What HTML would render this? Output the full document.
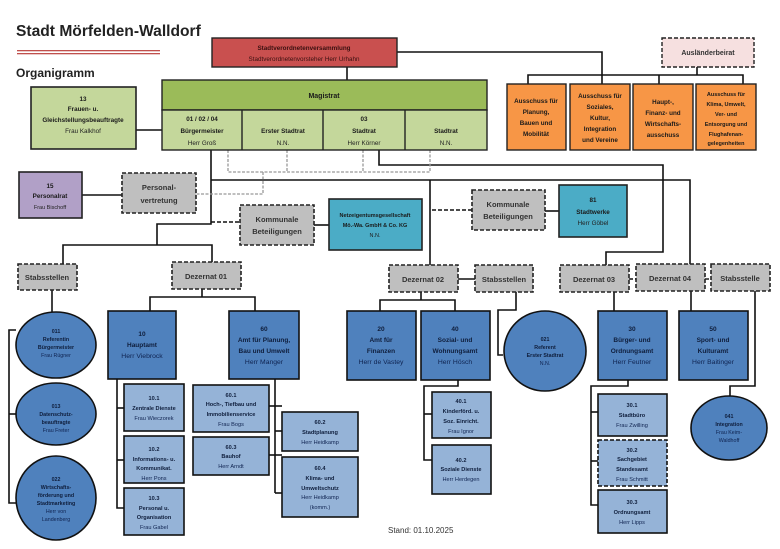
<!DOCTYPE html>
<html><head><meta charset="utf-8"><style>
html,body{margin:0;padding:0;background:#fff;width:780px;height:549px;overflow:hidden}
svg{display:block}
text{font-family:"Liberation Sans",sans-serif;text-anchor:middle}
.b{font-weight:bold;font-size:6.3px;fill:#1a1a1a}
.n{font-size:6.3px;fill:#222}
.bb{font-weight:bold;font-size:6.5px;fill:#0f1e3c}
.nb{font-size:6.8px;fill:#0f2350}
.g{font-weight:bold;font-size:7.5px;fill:#333}
</style></head><body>
<svg width="780" height="549" viewBox="0 0 780 549" xmlns="http://www.w3.org/2000/svg">
<text x="16" y="36" style="text-anchor:start;font-weight:bold;font-size:15.6px;fill:#222">Stadt Mörfelden-Walldorf</text>
<rect x="17" y="50" width="143" height="1.3" fill="#c0504d"/>
<rect x="17" y="53" width="143" height="1.3" fill="#c0504d"/>
<text x="16" y="77" style="text-anchor:start;font-weight:bold;font-size:12px;fill:#222">Organigramm</text>

<g stroke="#111" stroke-width="1.6" fill="none">
<polyline points="397,52 602,52 602,84"/>
<line x1="347" y1="67" x2="347" y2="80"/>
<polyline points="528,84 528,75 743,75 743,84"/>
<line x1="659" y1="75" x2="659" y2="84"/>
<line x1="697" y1="67" x2="697" y2="75"/>
<line x1="136" y1="130" x2="162" y2="130"/>
<line x1="82" y1="195" x2="122" y2="195"/>
<polyline points="211,150 211,224 157,224 157,245"/>
<polyline points="63,264 63,245 212,245 212,262"/>
<polyline points="211,180 690,180 690,264"/>
<line x1="430" y1="180" x2="430" y2="265"/>
<polyline points="379,150 379,165 663,165 663,252 606,252 606,265"/>
<line x1="314" y1="225" x2="329" y2="225"/>
<line x1="545" y1="211" x2="559" y2="211"/>
<line x1="458" y1="279" x2="475" y2="279"/>
<polyline points="150,311 150,297 255,297 255,311"/>
<line x1="202" y1="289" x2="202" y2="297"/>
<polyline points="117,379 117,508 124,508"/>
<line x1="117" y1="408" x2="124" y2="408"/>
<line x1="117" y1="460" x2="124" y2="460"/>
<line x1="275" y1="379" x2="275" y2="493"/>
<line x1="269" y1="406" x2="282" y2="406"/>
<line x1="269" y1="455" x2="282" y2="455"/>
<line x1="275" y1="431" x2="282" y2="431"/>
<line x1="275" y1="493" x2="282" y2="493"/>
<line x1="52" y1="290" x2="52" y2="312"/>
<polyline points="16,330 9,330 9,503 16,503"/>
<line x1="9" y1="414" x2="16" y2="414"/>
<line x1="421" y1="292" x2="421" y2="300"/>
<polyline points="380,311 380,300 455,300 455,311"/>
<polyline points="458,380 458,386 424,386 424,460 432,460"/>
<line x1="424" y1="414" x2="432" y2="414"/>
<polyline points="516,292 516,310 498,310 498,355 503,355"/>
<line x1="614" y1="292" x2="614" y2="311"/>
<polyline points="628,380 628,386 591,386 591,505 598,505"/>
<line x1="591" y1="412" x2="598" y2="412"/>
<line x1="591" y1="461" x2="598" y2="461"/>
<line x1="691" y1="291" x2="691" y2="311"/>
<polyline points="755,291 755,386 730,386 730,397"/>
</g>
<g stroke="#111" stroke-width="1.4" fill="none" stroke-dasharray="4,2">
<line x1="211" y1="222" x2="240" y2="222"/>
<line x1="432" y1="210" x2="472" y2="210"/>
<line x1="629" y1="279" x2="636" y2="279"/>
<line x1="705" y1="279" x2="711" y2="279"/>
</g>
<g stroke="#999" stroke-width="1.3" fill="none" stroke-dasharray="3,1.5">
<polyline points="228,150 228,172 430,172 430,150"/>
<line x1="287" y1="150" x2="287" y2="172"/>
<line x1="363" y1="150" x2="363" y2="172"/>
<polyline points="263,172 263,194 196,194"/>
</g>

<rect x="212" y="38" width="185" height="29" fill="#c9504f" stroke="#222" stroke-width="1.4"/>
<text x="304" y="50" class="b" style="fill:#3a1010">Stadtverordnetenversammlung</text>
<text x="304" y="61" class="n" style="fill:#3a1010">Stadtverordnetenvorsteher Herr Urhahn</text>
<rect x="662" y="38" width="92" height="29" fill="#f6e0e0" stroke="#222" stroke-width="1.4" stroke-dasharray="4,2"/>
<text x="708" y="55" class="b" style="font-size:7px;fill:#333">Ausländerbeirat</text>
<g fill="#f79646" stroke="#222" stroke-width="1.4">
<rect x="507" y="84" width="59" height="66"/><rect x="570" y="84" width="60" height="66"/>
<rect x="633" y="84" width="60" height="66"/><rect x="696" y="84" width="60" height="66"/>
</g>
<text x="536" y="103" class="b">Ausschuss für</text><text x="536" y="114" class="b">Planung,</text><text x="536" y="125" class="b">Bauen und</text><text x="536" y="136" class="b">Mobilität</text>
<text x="600" y="98" class="b">Ausschuss für</text><text x="600" y="109" class="b">Soziales,</text><text x="600" y="120" class="b">Kultur,</text><text x="600" y="131" class="b">Integration</text><text x="600" y="142" class="b">und Vereine</text>
<text x="663" y="104" class="b">Haupt-,</text><text x="663" y="115" class="b">Finanz- und</text><text x="663" y="126" class="b">Wirtschafts-</text><text x="663" y="137" class="b">ausschuss</text>
<text x="726" y="96" class="b" style="font-size:5.5px">Ausschuss für</text><text x="726" y="106" class="b" style="font-size:5.5px">Klima, Umwelt,</text><text x="726" y="116" class="b" style="font-size:5.5px">Ver- und</text><text x="726" y="126" class="b" style="font-size:5.5px">Entsorgung und</text><text x="726" y="136" class="b" style="font-size:5.5px">Flughafenan-</text><text x="726" y="145" class="b" style="font-size:5.5px">gelegenheiten</text>
<rect x="162" y="80" width="325" height="30" fill="#9bbb59" stroke="#222" stroke-width="1.4"/>
<rect x="162" y="110" width="325" height="40" fill="#c4d79b" stroke="#222" stroke-width="1.4"/>
<g stroke="#222" stroke-width="1.4"><line x1="242" y1="110" x2="242" y2="150"/><line x1="323" y1="110" x2="323" y2="150"/><line x1="405" y1="110" x2="405" y2="150"/></g>
<text x="324" y="98" class="b" style="font-size:7px">Magistrat</text>
<text x="202" y="121" class="b">01 / 02 / 04</text><text x="202" y="133" class="b">Bürgermeister</text><text x="202" y="145" class="n">Herr Groß</text>
<text x="283" y="133" class="b">Erster Stadtrat</text><text x="283" y="145" class="n">N.N.</text>
<text x="364" y="121" class="b">03</text><text x="364" y="133" class="b">Stadtrat</text><text x="364" y="145" class="n">Herr Körner</text>
<text x="446" y="133" class="b">Stadtrat</text><text x="446" y="145" class="n">N.N.</text>
<rect x="31" y="87" width="105" height="62" fill="#c4d79b" stroke="#222" stroke-width="1.6"/>
<text x="83" y="101" class="b">13</text><text x="83" y="111" class="b">Frauen- u.</text><text x="83" y="122" class="b">Gleichstellungsbeauftragte</text><text x="83" y="133" class="n">Frau Kalkhof</text>
<rect x="19" y="172" width="63" height="46" fill="#b1a0c7" stroke="#222" stroke-width="1.6"/>
<text x="50" y="188" class="b">15</text><text x="50" y="198" class="b">Personalrat</text><text x="50" y="209" class="n" style="font-size:5.5px">Frau Bischoff</text>
<g fill="#bfbfbf" stroke="#222" stroke-width="1.6" stroke-dasharray="4,2">
<rect x="122" y="173" width="74" height="40"/>
<rect x="240" y="205" width="74" height="40"/>
<rect x="472" y="190" width="73" height="40"/>
<rect x="18" y="264" width="59" height="26"/>
<rect x="172" y="262" width="69" height="27"/>
<rect x="389" y="265" width="69" height="27"/>
<rect x="475" y="265" width="58" height="27"/>
<rect x="560" y="265" width="69" height="27"/>
<rect x="636" y="264" width="69" height="27"/>
<rect x="711" y="264" width="59" height="27"/>
</g>
<text x="159" y="190" class="g">Personal-</text><text x="159" y="203" class="g">vertretung</text>
<text x="277" y="222" class="g">Kommunale</text><text x="277" y="234" class="g">Beteiligungen</text>
<text x="508" y="207" class="g">Kommunale</text><text x="508" y="219" class="g">Beteiligungen</text>
<text x="47" y="280" class="g">Stabsstellen</text>
<text x="206" y="279" class="g">Dezernat 01</text>
<text x="423" y="282" class="g">Dezernat 02</text>
<text x="504" y="282" class="g">Stabsstellen</text>
<text x="594" y="282" class="g">Dezernat 03</text>
<text x="670" y="281" class="g">Dezernat 04</text>
<text x="740" y="281" class="g">Stabsstelle</text>
<rect x="329" y="199" width="93" height="51" fill="#4bacc6" stroke="#222" stroke-width="1.6"/>
<text x="375" y="217" class="b" style="font-size:5.5px">Netzeigentumsgesellschaft</text><text x="375" y="227" class="b" style="font-size:5.5px">Mö.-Wa. GmbH &amp; Co. KG</text><text x="375" y="237" class="n" style="font-size:5.5px">N.N.</text>
<rect x="559" y="185" width="68" height="52" fill="#4bacc6" stroke="#222" stroke-width="1.6"/>
<text x="593" y="202" class="b">81</text><text x="593" y="214" class="b">Stadtwerke</text><text x="593" y="225" class="n">Herr Göbel</text>
<g fill="#4f81bd" stroke="#111" stroke-width="1.6">
<rect x="108" y="311" width="68" height="68"/>
<rect x="229" y="311" width="70" height="68"/>
<rect x="347" y="311" width="69" height="69"/>
<rect x="421" y="311" width="69" height="69"/>
<rect x="598" y="311" width="69" height="69"/>
<rect x="679" y="311" width="69" height="69"/>
<ellipse cx="56" cy="345" rx="40" ry="33"/>
<ellipse cx="56" cy="414" rx="40" ry="31"/>
<ellipse cx="56" cy="498" rx="40" ry="42"/>
<ellipse cx="545" cy="351" rx="41" ry="40"/>
<ellipse cx="729" cy="428" rx="38" ry="32"/>
</g>
<text x="142" y="336" class="bb">10</text><text x="142" y="347" class="bb">Hauptamt</text><text x="142" y="358" class="nb">Herr Viebrock</text>
<text x="264" y="331" class="bb">60</text><text x="264" y="342" class="bb">Amt für Planung,</text><text x="264" y="353" class="bb">Bau und Umwelt</text><text x="264" y="364" class="nb">Herr Manger</text>
<text x="381" y="331" class="bb">20</text><text x="381" y="342" class="bb">Amt für</text><text x="381" y="353" class="bb">Finanzen</text><text x="381" y="364" class="nb">Herr de Vastey</text>
<text x="455" y="331" class="bb">40</text><text x="455" y="342" class="bb">Sozial- und</text><text x="455" y="353" class="bb">Wohnungsamt</text><text x="455" y="364" class="nb">Herr Hösch</text>
<text x="632" y="331" class="bb">30</text><text x="632" y="342" class="bb">Bürger- und</text><text x="632" y="353" class="bb">Ordnungsamt</text><text x="632" y="364" class="nb">Herr Feutner</text>
<text x="713" y="331" class="bb">50</text><text x="713" y="342" class="bb">Sport- und</text><text x="713" y="353" class="bb">Kulturamt</text><text x="713" y="364" class="nb">Herr Baitinger</text>
<text x="56" y="333" class="bb" style="font-size:5.3px">011</text><text x="56" y="341" class="bb" style="font-size:5.3px">Referentin</text><text x="56" y="349" class="bb" style="font-size:5.3px">Bürgermeister</text><text x="56" y="357" class="nb" style="font-size:5.3px">Frau Rügner</text>
<text x="56" y="408" class="bb" style="font-size:5.3px">013</text><text x="56" y="416" class="bb" style="font-size:5.3px">Datenschutz-</text><text x="56" y="424" class="bb" style="font-size:5.3px">beauftragte</text><text x="56" y="432" class="nb" style="font-size:5.3px">Frau Freter</text>
<text x="56" y="481" class="bb" style="font-size:5.3px">022</text><text x="56" y="489" class="bb" style="font-size:5.3px">Wirtschafts-</text><text x="56" y="497" class="bb" style="font-size:5.3px">förderung und</text><text x="56" y="505" class="bb" style="font-size:5.3px">Stadtmarketing</text><text x="56" y="513" class="nb" style="font-size:5.3px">Herr von</text><text x="56" y="521" class="nb" style="font-size:5.3px">Landenberg</text>
<text x="545" y="341" class="bb" style="font-size:5.3px">021</text><text x="545" y="349" class="bb" style="font-size:5.3px">Referent</text><text x="545" y="357" class="bb" style="font-size:5.3px">Erster Stadtrat</text><text x="545" y="365" class="nb" style="font-size:5.3px">N.N.</text>
<text x="729" y="418" class="bb" style="font-size:5.3px">041</text><text x="729" y="426" class="bb" style="font-size:5.3px">Integration</text><text x="729" y="434" class="nb" style="font-size:5.3px">Frau Keim-</text><text x="729" y="442" class="nb" style="font-size:5.3px">Waldhoff</text>
<g fill="#95b3d7" stroke="#111" stroke-width="1.6">
<rect x="124" y="384" width="60" height="47"/>
<rect x="124" y="436" width="60" height="47"/>
<rect x="124" y="488" width="60" height="47"/>
<rect x="193" y="385" width="76" height="47"/>
<rect x="193" y="437" width="76" height="38"/>
<rect x="282" y="412" width="76" height="39"/>
<rect x="282" y="457" width="76" height="60"/>
<rect x="432" y="392" width="59" height="46"/>
<rect x="432" y="445" width="59" height="49"/>
<rect x="598" y="394" width="69" height="42"/>
<rect x="598" y="490" width="69" height="43"/>
</g>
<rect x="598" y="440" width="69" height="46" fill="#95b3d7" stroke="#111" stroke-width="1.6" stroke-dasharray="4,2"/>
<text x="154" y="400" class="bb" style="font-size:5.6px">10.1</text><text x="154" y="410" class="bb" style="font-size:5.6px">Zentrale Dienste</text><text x="154" y="420" class="nb" style="font-size:5.6px">Frau Wieczorek</text>
<text x="154" y="451" class="bb" style="font-size:5.6px">10.2</text><text x="154" y="461" class="bb" style="font-size:5.6px">Informations- u.</text><text x="154" y="470" class="bb" style="font-size:5.6px">Kommunikat.</text><text x="154" y="480" class="nb" style="font-size:5.6px">Herr Pons</text>
<text x="154" y="500" class="bb" style="font-size:5.6px">10.3</text><text x="154" y="510" class="bb" style="font-size:5.6px">Personal u.</text><text x="154" y="519" class="bb" style="font-size:5.6px">Organisation</text><text x="154" y="529" class="nb" style="font-size:5.6px">Frau Gabel</text>
<text x="231" y="397" class="bb" style="font-size:5.6px">60.1</text><text x="231" y="406" class="bb" style="font-size:5.6px">Hoch-, Tiefbau und</text><text x="231" y="416" class="bb" style="font-size:5.6px">Immobilienservice</text><text x="231" y="426" class="nb" style="font-size:5.6px">Frau Bogs</text>
<text x="231" y="449" class="bb" style="font-size:5.6px">60.3</text><text x="231" y="458" class="bb" style="font-size:5.6px">Bauhof</text><text x="231" y="468" class="nb" style="font-size:5.6px">Herr Arndt</text>
<text x="320" y="424" class="bb" style="font-size:5.6px">60.2</text><text x="320" y="434" class="bb" style="font-size:5.6px">Stadtplanung</text><text x="320" y="444" class="nb" style="font-size:5.6px">Herr Heidkamp</text>
<text x="320" y="470" class="bb" style="font-size:5.6px">60.4</text><text x="320" y="480" class="bb" style="font-size:5.6px">Klima- und</text><text x="320" y="490" class="bb" style="font-size:5.6px">Umweltschutz</text><text x="320" y="499" class="nb" style="font-size:5.6px">Herr Heidkamp</text><text x="320" y="509" class="nb" style="font-size:5.6px">(komm.)</text>
<text x="461" y="403" class="bb" style="font-size:5.6px">40.1</text><text x="461" y="413" class="bb" style="font-size:5.6px">Kinderförd. u.</text><text x="461" y="423" class="bb" style="font-size:5.6px">Soz. Einricht.</text><text x="461" y="433" class="nb" style="font-size:5.6px">Frau Ignor</text>
<text x="461" y="462" class="bb" style="font-size:5.6px">40.2</text><text x="461" y="471" class="bb" style="font-size:5.6px">Soziale Dienste</text><text x="461" y="481" class="nb" style="font-size:5.6px">Herr Herdegen</text>
<text x="632" y="407" class="bb" style="font-size:5.6px">30.1</text><text x="632" y="417" class="bb" style="font-size:5.6px">Stadtbüro</text><text x="632" y="427" class="nb" style="font-size:5.6px">Frau Zwilling</text>
<text x="632" y="452" class="bb" style="font-size:5.6px">30.2</text><text x="632" y="461" class="bb" style="font-size:5.6px">Sachgebiet</text><text x="632" y="471" class="bb" style="font-size:5.6px">Standesamt</text><text x="632" y="481" class="nb" style="font-size:5.6px">Frau Schmitt</text>
<text x="632" y="504" class="bb" style="font-size:5.6px">30.3</text><text x="632" y="514" class="bb" style="font-size:5.6px">Ordnungsamt</text><text x="632" y="524" class="nb" style="font-size:5.6px">Herr Lipps</text>
<text x="388" y="533" style="text-anchor:start;font-size:8px;fill:#333">Stand: 01.10.2025</text>
</svg>
</body></html>
